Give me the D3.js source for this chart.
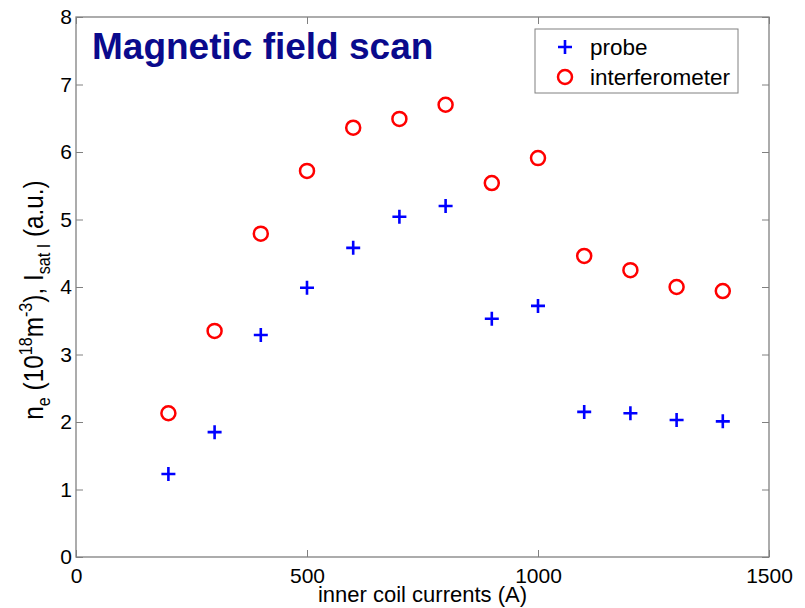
<!DOCTYPE html>
<html>
<head>
<meta charset="utf-8">
<script src="https://cdn.jsdelivr.net/npm/d3@7"></script>
<style>
  body { margin: 0; background: #fff; }
  text { font-family: "Liberation Sans", Arial, sans-serif; }
</style>
</head>
<body>
<svg id="chart" width="805" height="608"></svg>
<script>
var currents = [200, 300, 400, 500, 600, 700, 800, 900, 1000, 1100, 1200, 1300, 1400];
var probe = [1.23, 1.85, 3.29, 3.99, 4.58, 5.04, 5.20, 3.53, 3.72, 2.15, 2.13, 2.03, 2.01];
var interferometer = [2.13, 3.35, 4.79, 5.72, 6.36, 6.49, 6.70, 5.54, 5.91, 4.46, 4.25, 4.00, 3.94];
var xTicks = [0, 500, 1000, 1500];
var yTicks = [0, 1, 2, 3, 4, 5, 6, 7, 8];
var legendKeys = ["probe", "interferometer"];

var svg = d3.select("#chart"),
    margin = {top: 17, right: 36, bottom: 51, left: 76},
    width = 805 - margin.left - margin.right,
    height = 608 - margin.top - margin.bottom,
    g = svg.append("g").attr("transform", "translate(" + margin.left + "," + margin.top + ")");

var x = d3.scaleLinear().domain([0, 1500]).range([0, width]),
    y = d3.scaleLinear().domain([0, 8]).range([height, 0]);

var axisColor = "#808080";

// inward ticks on all four sides, matlab style
function styleAxis(sel) {
  sel.select(".domain").remove();
  sel.selectAll(".tick line").attr("stroke", axisColor);
  sel.selectAll(".tick text").attr("fill", "#000").attr("font-size", 21);
}

g.append("g")
    .attr("transform", "translate(0," + height + ")")
    .call(d3.axisBottom(x).tickValues(xTicks).tickSize(-7).tickPadding(11).tickFormat(d3.format("d")))
    .call(styleAxis);

g.append("g")
    .call(d3.axisTop(x).tickValues(xTicks).tickSize(-7).tickFormat(""))
    .call(styleAxis);

g.append("g")
    .call(d3.axisLeft(y).tickValues(yTicks).tickSize(-7).tickPadding(4).tickFormat(d3.format("d")))
    .call(styleAxis);

g.append("g")
    .attr("transform", "translate(" + width + ",0)")
    .call(d3.axisRight(y).tickValues(yTicks).tickSize(-7).tickFormat(""))
    .call(styleAxis);

g.append("rect")
    .attr("width", width)
    .attr("height", height)
    .attr("fill", "none")
    .attr("stroke", axisColor)
    .attr("stroke-width", 1.3);

// x label
g.append("text")
    .attr("x", width / 2)
    .attr("y", height + 45)
    .attr("text-anchor", "middle")
    .attr("font-size", 22)
    .text("inner coil currents (A)");

// y label with sub/superscripts
var yl = g.append("text")
    .attr("transform", "translate(-33," + (height / 2 + 13) + ") rotate(-90) scale(0.9,1)")
    .attr("text-anchor", "middle")
    .attr("font-size", 27);
yl.append("tspan").text("n");
yl.append("tspan").attr("font-size", 18).attr("dy", 7).text("e");
yl.append("tspan").attr("dy", -7).text(" (10");
yl.append("tspan").attr("font-size", 18).attr("dy", -11).text("18");
yl.append("tspan").attr("dy", 11).text("m");
yl.append("tspan").attr("font-size", 18).attr("dy", -11).text("-3");
yl.append("tspan").attr("dy", 11).text("), I");
yl.append("tspan").attr("font-size", 18).attr("dy", 7).text("sat I");
yl.append("tspan").attr("dy", -7).text(" (a.u.)");

// title
g.append("text")
    .attr("x", 16)
    .attr("y", 42)
    .attr("font-size", 37)
    .attr("font-weight", "bold")
    .attr("fill", "#0a0a8c")
    .text("Magnetic field scan");

function drawPlus(sel, cx, cy) {
  sel.append("path")
      .attr("d", "M" + (cx - 7) + "," + cy + "H" + (cx + 7) + "M" + cx + "," + (cy - 7) + "V" + (cy + 7))
      .attr("stroke", "#0000ff")
      .attr("stroke-width", 2.6)
      .attr("fill", "none");
}

var probeData = currents.map(function(c, i) { return {x: c, v: probe[i]}; });
var intData = currents.map(function(c, i) { return {x: c, v: interferometer[i]}; });

var pts = g.append("g");
probeData.forEach(function(d) { drawPlus(pts, x(d.x), y(d.v)); });

g.selectAll(".circ")
  .data(intData)
  .enter().append("circle")
    .attr("class", "circ")
    .attr("cx", function(d) { return x(d.x); })
    .attr("cy", function(d) { return y(d.v); })
    .attr("r", 7)
    .attr("fill", "none")
    .attr("stroke", "#ff0000")
    .attr("stroke-width", 2.5);

// legend
var lg = g.append("g").attr("transform", "translate(" + (535 - margin.left) + "," + (29 - margin.top) + ")");
lg.append("rect")
    .attr("width", 203)
    .attr("height", 64)
    .attr("fill", "#fff")
    .attr("stroke", axisColor)
    .attr("stroke-width", 1);
drawPlus(lg, 30, 18);
lg.append("circle")
    .attr("cx", 30).attr("cy", 48).attr("r", 7)
    .attr("fill", "none").attr("stroke", "#ff0000").attr("stroke-width", 2.5);
lg.selectAll(".lt")
  .data(legendKeys)
  .enter().append("text")
    .attr("class", "lt")
    .attr("x", 55)
    .attr("y", function(d, i) { return 18 + i * 30; })
    .attr("dy", "0.35em")
    .attr("font-size", 22.5)
    .text(function(d) { return d; });
</script>
</body>
</html>
